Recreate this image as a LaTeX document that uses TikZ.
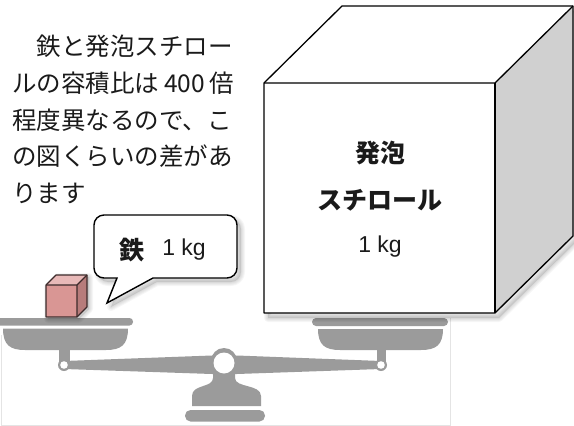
\documentclass[tikz,border=0pt]{standalone}
\usepackage{fontspec}
\setmainfont{Liberation Sans}
\newfontfamily\jp{Noto Sans CJK JP}
\definecolor{balgray}{HTML}{9B9B9B}
\definecolor{frame}{HTML}{E4E4E4}
\definecolor{sidegray}{HTML}{D0D0D0}
\definecolor{ink}{HTML}{1A1A1A}
\definecolor{ironfront}{HTML}{D99694}
\definecolor{irontop}{HTML}{E8B9B8}
\definecolor{ironside}{HTML}{B77C7B}
\definecolor{ironedge}{HTML}{3D2B2B}
% soft drop shadow under a closed path
\newcommand\softshadow[2]{%
  \begin{scope}[shift={#1}]
    \fill[black,opacity=0.10] #2;
    \foreach \w in {2,4,6,8}{\draw[black,opacity=0.035,line width=\w pt,line join=round] #2;}
  \end{scope}}
\begin{document}
\begin{tikzpicture}[x=1pt,y=-1pt,
  notetext/.style={font=\jp\fontsize{24.5}{30}\selectfont, text=ink, inner sep=0pt, anchor=base west},
  jplabel/.style={font=\jp\bfseries\fontsize{25}{30}\selectfont, text=ink, inner sep=0pt},
  kglabel/.style={font=\fontsize{23}{28}\selectfont, text=ink, inner sep=0pt},
  bal/.style={fill=balgray},
  edge/.style={line width=1.3pt, line join=round}]
\useasboundingbox (0,0) rectangle (574,426);

% light frame of the balance picture
\draw[frame, line width=0.8pt] (1,335) -- (1,425) -- (450,425) -- (450,318);

% ---- balance ----
% beam
\fill[bal] (64,361) -- (212,355.5) -- (237,355.5) -- (381,361) -- (381,369) -- (237,374) -- (212,374) -- (64,369) -- cycle;
% fulcrum stand
\fill[bal] (224,361) circle[radius=13];
\fill[bal] (213,368) -- (213,378) .. controls (213,388) and (192,384) .. (192,396) -- (192,406)
  -- (261,406) -- (261,396) .. controls (261,384) and (235,388) .. (235,378) -- (235,368) -- cycle;
\fill[white] (224,363) circle[radius=10.5];
% base plate
\fill[bal, rounded corners=5.5] (185,410) rectangle (265,421.5);
% left pan
\fill[bal, rounded corners=3.5] (-5,318) rectangle (133,325.5);
\fill[bal] (3,328.5) -- (128,328.5) .. controls (128,345) and (121,350) .. (106,350) -- (25,350)
  .. controls (10,350) and (3,345) .. (3,328.5) -- cycle;
\fill[bal] (59,349) rectangle (70,364);
\fill[bal] (64,365) circle[radius=6];
\fill[white] (64,365) circle[radius=3.8];
% right pan
\fill[bal, rounded corners=4] (312,318) rectangle (448,326);
\fill[bal] (318,329) -- (443,329) .. controls (443,345) and (436,350) .. (421,350) -- (340,350)
  .. controls (325,350) and (318,345) .. (318,329) -- cycle;
\fill[bal] (376.5,349) rectangle (386,364);
\fill[bal] (381,365) circle[radius=6];
\fill[white] (381,365) circle[radius=3.8];

% ---- large foam cube ----
\softshadow{(4,5)}{(264,83) -- (342,6) -- (573,6) -- (573,236) -- (495,313) -- (264,313) -- cycle}
\fill[white] (264,83) rectangle (495,313);
\fill[white] (264,83) -- (342,6) -- (573,6) -- (495,83) -- cycle;
\fill[sidegray] (495,83) -- (573,6) -- (573,236) -- (495,313) -- cycle;
\draw[edge] (264,83) -- (342,6) -- (573,6) -- (573,236) -- (495,313) -- (264,313) -- cycle;
\draw[edge] (264,83) -- (495,83) -- (573,6);
\draw[edge] (495,83) -- (495,313);
\node[jplabel] (foam1) at (380,153) {発泡};
\node[jplabel] (foam2) at (380,200) {スチロール};
\node[kglabel] (foamkg) at (380,247) {1 kg};

% ---- small iron cube ----
\softshadow{(2,2)}{(46,285) -- (56,275) -- (87,275) -- (87,307) -- (77,317) -- (46,317) -- cycle}
\fill[ironfront] (46,285) rectangle (77,317);
\fill[irontop] (46,285) -- (56,275) -- (87,275) -- (77,285) -- cycle;
\fill[ironside] (77,285) -- (87,275) -- (87,307) -- (77,317) -- cycle;
\draw[ironedge, line width=1.1pt, line join=round] (46,285) -- (56,275) -- (87,275) -- (87,307) -- (77,317) -- (46,317) -- cycle;
\draw[ironedge, line width=1.1pt, line join=round] (46,285) -- (77,285) -- (87,275) (77,285) -- (77,317);

% ---- speech bubble ----
\softshadow{(4,4)}{(153,278) -- (227,278) .. controls (232.5,278) and (237,273.5) .. (237,268) -- (237,225)
  .. controls (237,219.5) and (232.5,215) .. (227,215) -- (104,215) .. controls (98.5,215) and (94,219.5) .. (94,225)
  -- (94,268) .. controls (94,273.5) and (98.5,278) .. (104,278) -- (117,278) -- (107,303) -- cycle}
\draw[fill=white, line width=1.4pt, line join=miter] (153,278) -- (227,278) .. controls (232.5,278) and (237,273.5) .. (237,268) -- (237,225)
  .. controls (237,219.5) and (232.5,215) .. (227,215) -- (104,215) .. controls (98.5,215) and (94,219.5) .. (94,225)
  -- (94,268) .. controls (94,273.5) and (98.5,278) .. (104,278) -- (117,278) -- (107,303) -- cycle;
\node[jplabel] (iron) at (132,250) {鉄};
\node[kglabel] (ironkg) at (184,250) {1 kg};

% ---- explanatory note ----
\node[notetext] (l1) at (12,55.5) {\hspace*{24.5pt}鉄と発泡スチロー};
\node[notetext] (l2) at (12,92.3) {\makebox[222pt][s]{ルの容積比は 400 倍}};
\node[notetext] (l3) at (12,129) {程度異なるので、こ};
\node[notetext] (l4) at (12,165.8) {の図くらいの差があ};
\node[notetext] (l5) at (12,202.5) {ります};
\end{tikzpicture}
\end{document}
